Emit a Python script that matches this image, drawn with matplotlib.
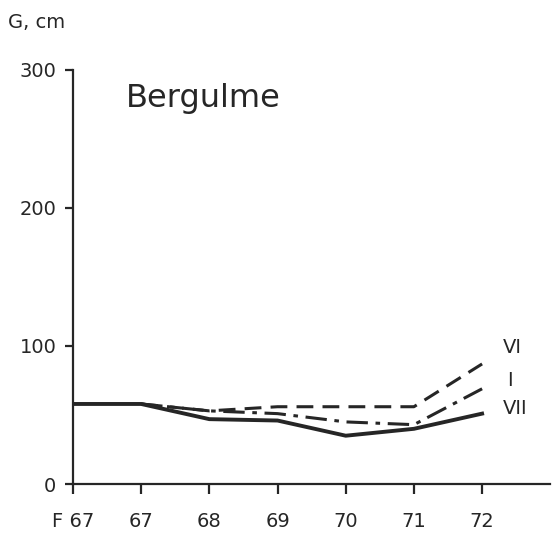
import matplotlib.pyplot as plt

plt.rcParams['font.family'] = ['DejaVu Sans']

years = ['F 67', '67', '68', '69', '70', '71', '72']
vii = [58, 58, 47, 46, 35, 40, 51]          # solid
vi = [58, 58, 53, 56, 56, 56, 87]           # dashed
i_vals = [58, 58, 53, 51, 45, 43, 69]       # dash-dot

ink = '#262626'
x = list(range(len(years)))

fig = plt.figure(figsize=(5.55, 5.34), dpi=100)
ax = fig.add_axes([0.1315, 0.0936, 0.86, 0.7754])

ax.plot(x[1:], vi[1:], color=ink, lw=2.2, dashes=(5.5, 3))
ax.plot(x[1:], i_vals[1:], color=ink, lw=2.2, dashes=(7, 2.5, 1.5, 2.5))
ax.plot(x, vii, color=ink, lw=2.8, solid_joinstyle='round')

ax.text(6.31, 99, 'VI', fontsize=14, color=ink, va='center')
ax.text(6.36, 75, 'I', fontsize=14, color=ink, va='center')
ax.text(6.31, 55, 'VII', fontsize=14, color=ink, va='center')
ax.text(0.78, 279, 'Bergulme', fontsize=23, color=ink, va='center')
fig.text(0.014, 0.958, 'G, cm', fontsize=14, color=ink, va='center')

ax.set_xlim(0, 7.0)
ax.set_ylim(0, 300)
ax.set_xticks(x)
ax.set_xticklabels(years)
ax.set_yticks([0, 100, 200, 300])

for side in ['top', 'right']:
    ax.spines[side].set_visible(False)
for side in ['left', 'bottom']:
    ax.spines[side].set_linewidth(1.6)
    ax.spines[side].set_color(ink)
ax.spines['left'].set_bounds(0, 300)

ax.tick_params(axis='x', direction='out', length=7, width=1.6, pad=13,
               labelsize=14, colors=ink)
ax.tick_params(axis='y', direction='out', length=6, width=1.6, pad=6,
               labelsize=14, colors=ink)

plt.savefig('out.png', dpi=100)
